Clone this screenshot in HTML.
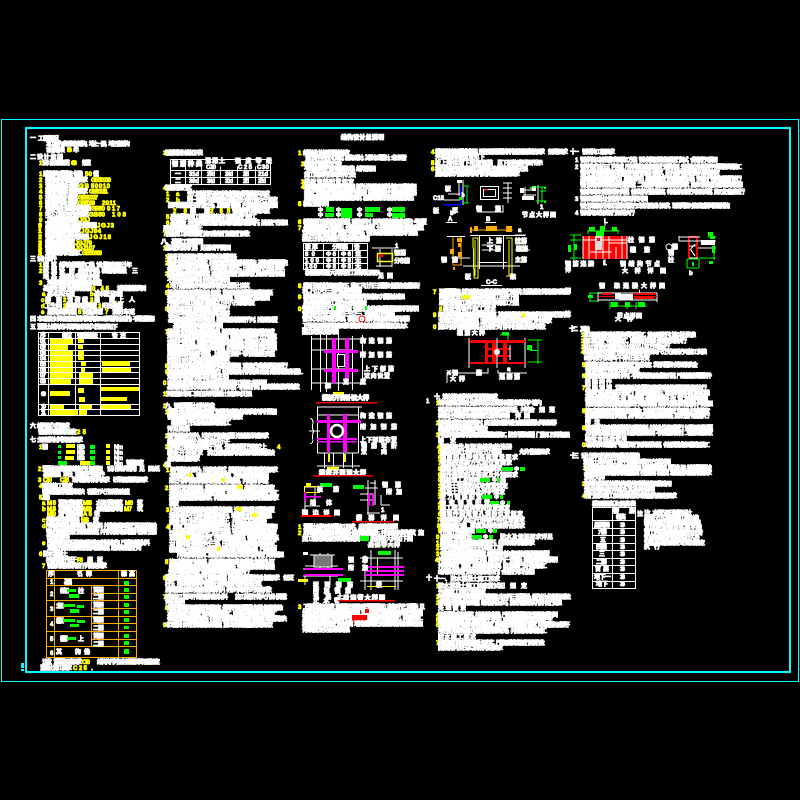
<!DOCTYPE html>
<html lang="zh"><head><meta charset="utf-8"><title>结构设计总说明</title>
<style>
html,body{margin:0;padding:0;background:#000;width:800px;height:800px;overflow:hidden}
svg{display:block}
text{font:bold 6px "Liberation Sans","Noto Sans CJK SC",sans-serif;fill:#fff;stroke:#fff;stroke-width:.8}
text.y{fill:#ff0;stroke:#ff0}
text.g{fill:#0f0;stroke:#0f0}
text.c{fill:#fff;stroke:#fff;stroke-width:1.1}
.l{stroke:#fff;fill:none;stroke-width:1;shape-rendering:crispEdges}
.o{stroke:#fa0;fill:none;stroke-width:1;shape-rendering:crispEdges}
.m{fill:#f0f;shape-rendering:crispEdges}
.r{fill:#f00;shape-rendering:crispEdges}
.gr{fill:#0f0;shape-rendering:crispEdges}
.yl{fill:#ff0;shape-rendering:crispEdges}
.gl{stroke:#0f0;fill:none;stroke-width:1;shape-rendering:crispEdges}
.yb{stroke:#ff0;fill:none;stroke-width:1;shape-rendering:crispEdges}
.ob{fill:#fa0;shape-rendering:crispEdges}
</style></head><body>
<svg width="800" height="800" viewBox="0 0 800 800" xmlns="http://www.w3.org/2000/svg">
<rect width="800" height="800" fill="#000"/>
<rect x="1.5" y="119.5" width="797" height="562" fill="none" stroke="#0ff" stroke-width="1"/>
<rect x="26" y="128" width="764" height="544" fill="none" stroke="#0ff" stroke-width="2"/>
<rect x="21" y="663" width="3" height="5" fill="#0ff"/><rect x="21" y="669" width="3" height="2" fill="#0ff"/>

<text x="341" y="139.5" textLength="43" class="c">结构设计总说明</text>

<!-- column 1 -->
<text x="30" y="140" textLength="5">一</text><text x="38" y="140.5" textLength="21">工程概况</text>
<text x="46" y="146" textLength="84">本工程为多层框架结构，地上一层，地下室结构</text>
<text x="46" y="152" textLength="19">设计使用年限</text><text x="67" y="152" textLength="5" class="y">50</text><text x="73" y="152" textLength="5">年</text>
<text x="30" y="159" textLength="5">二</text><text x="37" y="159" textLength="26">设计依据</text>
<text x="39" y="165" textLength="3" class="y">1</text><text x="42" y="165" textLength="28">设计标准规范</text><text x="71" y="165" textLength="6" class="y">GB</text><text x="82" y="165" textLength="9">规范</text>

<text x="39" y="176" textLength="3" class="y">1</text><text x="43" y="176" textLength="40">建筑结构可靠度统一标准</text><text x="85" y="176" textLength="7" class="y">50</text><text x="93" y="176" textLength="5">值</text>
<text x="39" y="182" textLength="3" class="y">2</text><text x="45" y="182" textLength="43">建筑结构荷载规范要求</text><text x="91" y="182" textLength="20" class="y">GB50009</text>
<text x="39" y="188" textLength="3" class="y">3</text><text x="45" y="188" textLength="34">混凝土结构设计规范</text><text x="79" y="188" textLength="10" class="y">GB</text><text x="91" y="188" textLength="19" class="y">50010</text>
<text x="39" y="193.500" textLength="3" class="y">4</text><text x="45" y="193.500" textLength="43">建筑抗震设计规范要求</text><text x="89" y="193.500" textLength="19" class="y">GB50011</text>
<text x="39" y="199.500" textLength="3" class="y">5</text><text x="45" y="199.500" textLength="33">地基基础设计规范</text><text x="78" y="199.500" textLength="20" class="y">GB50007</text>
<text x="39" y="205" textLength="3" class="y">6</text><text x="45" y="205" textLength="33">砌体结构设计规范</text><text x="78" y="205" textLength="17" class="y">GB5003</text><text x="102" y="205" textLength="14" class="y">2011</text>
<text x="39" y="210.500" textLength="3" class="y">7</text><text x="45" y="210.500" textLength="46">钢结构设计规范及其标准</text><text x="91" y="210.500" textLength="14" class="y">GB50</text><text x="107" y="210.500" textLength="13" class="y">017</text>
<text x="39" y="216.500" textLength="3" class="y">8</text><text x="45" y="216.500" textLength="44">地下工程防水技术规范</text><text x="89" y="216.500" textLength="16" class="y">GB50</text><text x="112" y="216.500" textLength="14" class="y">108</text>
<text x="39" y="222" textLength="3" class="y">9</text><text x="45" y="222" textLength="34">工程结构通用规范</text><text x="79" y="222" textLength="11" class="y">JGJ</text>
<text x="38" y="227.500" textLength="4" class="y">10</text><text x="45" y="227.500" textLength="52">高层建筑混凝土结构技术规程</text><text x="97" y="227.500" textLength="17" class="y">JGJ3</text>
<text x="38" y="233" textLength="4" class="y">11</text><text x="45" y="233" textLength="36">建筑桩基技术规范要求</text><text x="81" y="233" textLength="20" class="y">JGJ94</text>
<text x="38" y="239" textLength="4" class="y">12</text><text x="45" y="239" textLength="44">钢筋焊接及验收技术规程</text><text x="89" y="239" textLength="22" class="y">JGJ18</text>
<text x="38" y="245" textLength="4" class="y">13</text><text x="45" y="245" textLength="30">建筑地基处理规范</text><text x="75" y="245" textLength="17" class="y">JGJ79</text>
<text x="38" y="250" textLength="4" class="y">14</text><text x="45" y="250" textLength="30">钢筋机械连接规程</text><text x="75" y="250" textLength="20" class="y">JGJ107</text>
<text x="38" y="255" textLength="4" class="y">15</text><text x="45" y="255" textLength="37">混凝土结构工程施工</text><text x="82" y="255" textLength="20" class="y">GB50666</text>

<text x="30" y="261" textLength="5">三</text><text x="37" y="261" textLength="20">设计条件</text>
<text x="39" y="267" textLength="3" class="y">1</text><text x="43" y="267" textLength="14">建筑</text><text x="59" y="267" textLength="73">结构安全等级为二级，设计使用年限五十年</text>
<text x="39" y="273" textLength="3" class="y">2</text><text x="43" y="273" textLength="14">抗震</text><text x="59" y="273" textLength="16">设防</text><text x="78" y="273" textLength="49">类别为丙类，框架抗震等级</text><text x="132" y="273" textLength="3">三</text>
<text x="43" y="279" textLength="14">地基</text><text x="59" y="279" textLength="41">基础设计等级为丙级</text>
<text x="39" y="285" textLength="3" class="y">3</text><text x="47" y="285" textLength="55">场地类别及风雪荷载基本取值</text>
<text x="43" y="290.500" textLength="49">基本风压雪压按规范取值</text><text x="92" y="290.500" textLength="17" class="y">0.45</text><text x="117" y="290.500" textLength="33">地面粗糙度类别：</text>
<text x="42" y="296" textLength="3" class="y">a</text><text x="47" y="296" textLength="28">基本风压值</text><text x="90" y="296" textLength="3" class="y">b</text><text x="94" y="296" textLength="29">基本雪压取值</text>
<text x="41" y="302" textLength="3" class="y">c</text><text x="45" y="302" textLength="17">楼面</text><text x="63" y="302" textLength="3" class="y">2</text><text x="67" y="302" textLength="21">活荷载</text><text x="90" y="302" textLength="3" class="y">3</text><text x="94" y="302" textLength="21">屋面</text><text x="115" y="302" textLength="2" class="y">.</text><text x="118" y="302" textLength="17">上人</text>
<text x="41" y="308" textLength="3" class="y">d</text><text x="45" y="308" textLength="17">卫生间</text><text x="63" y="308" textLength="3" class="y">2</text><text x="66" y="308" textLength="31">楼梯走廊荷载</text><text x="98" y="308" textLength="3" class="y">3</text><text x="102" y="308" textLength="21">阳台荷载</text>
<text x="41" y="314" textLength="5" class="y">e</text><text x="47" y="314" textLength="30">屋面恒载取值</text><text x="78" y="314" textLength="3" class="y">5</text><text x="82" y="314" textLength="21">设备荷载</text><text x="105" y="314" textLength="4" class="y">7</text><text x="112" y="314" textLength="23">消防车道</text>
<text x="30" y="321" textLength="4">四</text><text x="37" y="321" textLength="118">本工程设计计算采用中国建筑科学研究院PKPM系列结构分析软件，不得超载使用</text>
<text x="30" y="329" textLength="5">五</text><text x="37" y="329" textLength="81">混凝土结构的环境类别及耐久性要求如下</text>

<path class="l" d="M38.500 332.500H139.500V415.500H38.500ZM38.500 338.500H139.500M38.500 344.500H139.500M38.500 350.500H139.500M38.500 355.500H139.500M38.500 361.500H139.500M38.500 367.500H139.500M38.500 372.500H139.500M38.500 378.500H139.500M38.500 384.500H139.500M38.500 404.500H139.500M38.500 409.500H139.500M48.500 332.500V415.500M75.500 332.500V415.500M100.500 332.500V415.500"/>
<text x="40" y="337.500" textLength="6">序</text><text x="62" y="337.500" textLength="10">部位</text><text x="77" y="337.500" textLength="21">强度等级</text><text x="112" y="337.500" textLength="14">备注</text>
<text x="40" y="343.500" textLength="6">01</text><text x="40" y="349.500" textLength="6">02</text><text x="40" y="355" textLength="6">03</text><text x="40" y="360.500" textLength="6">04</text><text x="40" y="366.500" textLength="6">05</text><text x="40" y="372" textLength="6">06</text><text x="40" y="377.500" textLength="6">07</text><text x="40" y="383.500" textLength="6">08</text><text x="41" y="396" textLength="5">09</text><text x="41" y="408.500" textLength="5">10</text><text x="41" y="414.500" textLength="5">11</text>
<rect class="yl" x="50" y="339" width="23" height="5"/><rect class="yl" x="50" y="345" width="18" height="5"/><rect class="yl" x="50" y="351" width="23" height="4"/><rect class="yl" x="50" y="356" width="23" height="5"/><rect class="yl" x="50" y="362" width="23" height="5"/><rect class="yl" x="50" y="368" width="23" height="4"/><rect class="yl" x="50" y="373" width="23" height="5"/><rect class="yl" x="50" y="379" width="21" height="5"/><rect class="yl" x="50" y="391" width="20" height="5"/><rect class="yl" x="50" y="405" width="14" height="4"/><rect class="yl" x="50" y="410" width="28" height="5"/><rect class="yl" x="78" y="339" width="6" height="4"/><rect class="yl" x="78" y="345" width="5" height="4"/><rect class="yl" x="78" y="351" width="6" height="4"/><rect class="yl" x="78" y="356" width="6" height="4"/><rect class="yl" x="81" y="362" width="5" height="4"/><rect class="yl" x="81" y="368" width="4" height="4"/><rect class="yl" x="79" y="373" width="14" height="5"/><rect class="yl" x="79" y="379" width="14" height="5"/><rect class="yl" x="78" y="388" width="6" height="5"/><rect class="yl" x="79" y="397" width="6" height="5"/><rect class="yl" x="79" y="405" width="13" height="4"/><rect class="yl" x="79" y="410" width="8" height="5"/><rect class="yl" x="102" y="361" width="28" height="5"/><rect class="yl" x="102" y="368" width="29" height="4"/><rect class="yl" x="101" y="387" width="38" height="4"/><rect class="yl" x="101" y="397" width="26" height="4"/><rect class="yl" x="101" y="405" width="30" height="4"/>

<text x="30" y="428" textLength="5">六</text><text x="37" y="428" textLength="33">结构耐久性要求</text>
<text x="38" y="434" textLength="39">钢筋保护层厚度及规定</text><text x="77" y="434" textLength="9" class="y">25</text>
<text x="30" y="442" textLength="5">七</text><text x="37" y="442" textLength="46">主要结构材料及强度要求</text>
<text x="39" y="449" textLength="3" class="y">1</text><text x="42" y="449" textLength="8">钢</text>
<rect class="gr" x="58" y="445" width="3" height="3"/><rect class="yl" x="66" y="444" width="9" height="4"/><text x="77" y="449" textLength="8">HPB</text><rect class="gr" x="90" y="445" width="5" height="4"/><rect class="yl" x="106" y="444" width="4" height="4"/><text x="114" y="449" textLength="9">N/m</text>
<rect class="gr" x="58" y="451" width="3" height="3"/><rect class="yl" x="66" y="450" width="9" height="4"/><text x="77" y="454.500" textLength="8">HRB</text><rect class="gr" x="90" y="450" width="5" height="4"/><rect class="yl" x="106" y="450" width="4" height="4"/><text x="114" y="454.500" textLength="9">N/m</text>
<rect class="gr" x="58" y="456" width="3" height="3"/><rect class="yl" x="65" y="456" width="9" height="4"/><text x="77" y="460" textLength="8">HRB</text><rect class="gr" x="90" y="456" width="5" height="4"/><rect class="yl" x="106" y="456" width="4" height="4"/><text x="114" y="460" textLength="9">N/m</text>
<rect class="gr" x="58" y="461" width="9" height="4"/><rect class="yl" x="80" y="461" width="10" height="4"/><rect class="gr" x="90" y="461" width="5" height="4"/><rect class="yl" x="106" y="461" width="4" height="4"/><text x="114" y="465.500" textLength="9">N/m</text><text x="126" y="465" textLength="18">钢筋强度</text>
<text x="38" y="471" textLength="4" class="y">2</text><text x="42" y="471" textLength="61">混凝土强度等级按各构件分别采用</text><text x="107" y="471" textLength="30">设计要求选用</text><text x="139" y="471" textLength="6">见</text><text x="148" y="471" textLength="12">图纸</text>
<text x="43" y="476.500" textLength="62">基础垫层、承台、地梁及柱墙构件</text>
<text x="38" y="482" textLength="3" class="y">3</text><text x="43" y="482" textLength="9" class="y">C30</text><text x="60" y="482" textLength="9" class="y">C25</text><text x="72" y="482" textLength="38">填充墙砌体材料要求</text><text x="113" y="482" textLength="35">砂浆强度等级要求</text>
<text x="39" y="488" textLength="2" class="y">4</text><text x="42" y="488" textLength="31">砌体施工规定</text>
<text x="42" y="494" textLength="43">非承重墙采用轻质砌块</text><text x="87" y="494" textLength="43">容重不大于规范规定值</text>
<text x="39" y="499.500" textLength="3" class="y">5</text><text x="42" y="499.500" textLength="8">其他</text>
<text x="42" y="505" textLength="3" class="y">a</text><text x="47" y="505" textLength="9" class="y">M5</text><text x="58" y="505" textLength="25">混合砂浆砌筑</text><text x="83" y="505" textLength="9" class="y">M7.5</text><text x="96" y="505" textLength="27">水泥砂浆砌筑</text><text x="125" y="505" textLength="8" class="y">M5</text><text x="137" y="505" textLength="7">筑</text>
<text x="42" y="511" textLength="3" class="y">b</text><text x="47" y="511" textLength="9" class="y">MU5</text><text x="58" y="511" textLength="25">页岩多孔砖砌</text><text x="83" y="511" textLength="9" class="y">MU10</text><text x="96" y="511" textLength="27">烧结普通砖砌</text><text x="124" y="511" textLength="8" class="y">M7</text><text x="137" y="511" textLength="7">筑</text>
<text x="47" y="516" textLength="9" class="y">M10</text><text x="58" y="516" textLength="25">加气混凝土砌</text><text x="83" y="516" textLength="9" class="y">A5</text><text x="94" y="516" textLength="9">块</text>
<text x="42" y="522" textLength="3" class="y">c</text><text x="46" y="522" textLength="34">焊条采用相应规格</text><text x="81" y="522" textLength="8" class="y">E43</text><text x="93" y="522" textLength="9">型</text>
<text x="42" y="528" textLength="3" class="y">d</text><text x="46" y="528" textLength="111">所有结构用钢材须具有出厂合格证明，并应按规范要求进行见证取样复验</text>
<text x="46" y="534" textLength="111">钢材性能应符合现行国家标准规定，并不得采用冷加工钢筋代替受力钢筋</text>
<text x="46" y="539" textLength="24">合格后使用</text>
<text x="42" y="545" textLength="3" class="y">e</text><text x="47" y="545" textLength="103">所有预埋件及吊环应采用未经冷加工的钢材制作，严禁使用其他材料</text>
<text x="47" y="550" textLength="95">混凝土外加剂选用应符合相关标准规定，经试验合格后方可</text>
<text x="39" y="556" textLength="3" class="y">6</text><text x="43" y="556" textLength="25">防水混凝土</text>
<text x="46" y="562" textLength="31">抗渗等级不低于</text><text x="77" y="562" textLength="6" class="y">P6</text><text x="87" y="562" textLength="16">底板</text>
<text x="42" y="568" textLength="4" class="y">7</text><text x="47" y="568" textLength="60">钢筋的连接应符合下列规定要求</text>

<path class="o" d="M46.500 570.500H136.500V657.500H46.500ZM46.500 578.500H136.500M46.500 585.500H136.500M46.500 600.500H136.500M46.500 616.500H136.500M46.500 631.500H136.500M46.500 646.500H136.500M91.500 593.500H136.500M91.500 608.500H136.500M91.500 623.500H136.500M91.500 639.500H136.500M54.500 570.500V657.500M91.500 585.500V646.500M118.500 570.500V657.500"/>
<text x="48" y="576" textLength="5">序</text><text x="77" y="576" textLength="15">名称</text><text x="121" y="576" textLength="14">标高</text>
<text x="50" y="584" textLength="3">1</text><text x="64" y="584" textLength="8">基础</text><rect class="gr" x="124" y="581" width="5" height="4"/>
<text x="50" y="596" textLength="3">2</text><text x="60" y="593" textLength="9">框架</text><rect class="gr" x="67" y="589" width="9" height="3"/><text x="78" y="593" textLength="7">柱</text><rect class="gr" x="69" y="594" width="10" height="4"/><text x="93" y="592" textLength="11">首层</text><text x="93" y="599" textLength="11">二层</text><rect class="gr" x="124" y="588" width="5" height="4"/><rect class="gr" x="124" y="595" width="5" height="4"/>
<text x="50" y="611" textLength="3">3</text><text x="56" y="608" textLength="8">主梁</text><rect class="gr" x="63" y="604" width="12" height="3"/><rect class="gr" x="77" y="605" width="7" height="3"/><rect class="gr" x="70" y="609" width="9" height="4"/><text x="93" y="607" textLength="11">首层</text><text x="93" y="614" textLength="11">二层</text><rect class="gr" x="124" y="603" width="5" height="4"/><rect class="gr" x="124" y="610" width="5" height="4"/>
<text x="50" y="626" textLength="3">4</text><text x="56" y="623" textLength="8">楼板</text><rect class="gr" x="63" y="619" width="12" height="3"/><rect class="gr" x="77" y="620" width="8" height="3"/><rect class="gr" x="70" y="624" width="9" height="3"/><text x="93" y="622" textLength="11">首层</text><text x="93" y="630" textLength="11">二层</text><rect class="gr" x="124" y="618" width="5" height="4"/><rect class="gr" x="124" y="626" width="5" height="3"/>
<text x="50" y="641" textLength="3">5</text><text x="60" y="641" textLength="8">楼梯</text><rect class="gr" x="67" y="637" width="9" height="3"/><text x="78" y="641" textLength="7">上</text><text x="93" y="638" textLength="11">首层</text><text x="93" y="646" textLength="11">二层</text><rect class="gr" x="124" y="634" width="5" height="4"/><rect class="gr" x="124" y="641" width="5" height="4"/>
<text x="50" y="655" textLength="3">6</text><text x="56" y="654" textLength="34">其他</text><text x="75" y="654" textLength="15">构件</text><rect class="gr" x="124" y="649" width="5" height="5"/>
<text x="42" y="664" textLength="40">注意：混凝土强度要求</text><text x="82" y="664" textLength="8" class="y">C30</text><text x="97" y="664" textLength="63">结构构件外加剂掺量及其用量规定</text>
<text x="40" y="670" textLength="32">混凝土施工要求</text><text x="73" y="670" textLength="14" class="y">C25</text><text x="91" y="670" textLength="2">.</text>

<!-- column 2 -->
<text x="163" y="155" textLength="2" class="y">3</text><text x="165" y="155" textLength="38">钢筋锚固长度如下表</text>
<path class="l" d="M170.500 159.500H270.500V184.500H170.500ZM170.500 170.500H270.500M170.500 177.500H270.500M201.500 166.500V184.500M220.500 166.500V184.500M237.500 166.500V184.500M255.500 166.500V184.500M185.500 159.500V184.500"/>
<text x="172" y="166" textLength="30" class="c">钢筋种类</text><text x="205" y="163" textLength="20">混凝土</text><text x="235" y="163" textLength="37">强度等级</text><text x="206" y="169" textLength="10">C20</text><text x="238" y="169" textLength="14">C25</text><text x="257" y="169" textLength="12">C30</text>
<text x="175" y="176" textLength="5">一</text><text x="189" y="176" textLength="10">31d</text><text x="207" y="176" textLength="8">27d</text><text x="225" y="176" textLength="8">24d</text><text x="243" y="176" textLength="6">22d</text><text x="258" y="176" textLength="10">21d</text>
<text x="175" y="183" textLength="5">二</text><text x="189" y="183" textLength="10">39d</text><text x="207" y="183" textLength="8">34d</text><text x="225" y="183" textLength="8">30d</text><text x="243" y="183" textLength="6">27d</text><text x="258" y="183" textLength="8">25d</text>
<text x="163" y="190" textLength="2" class="y">4</text><text x="165" y="190" textLength="27">钢筋连接方式</text>
<text x="166" y="196" textLength="2" class="y">1</text><text x="176" y="196" textLength="8" class="y">a</text><text x="187" y="196" textLength="83">受力钢筋优先采用机械连接或焊接接头要求</text>
<text x="166" y="202" textLength="2" class="y">2</text><text x="176" y="202" textLength="9" class="y">b</text><text x="187" y="202" textLength="91">同一截面内钢筋接头面积百分率不应大于规定</text>
<text x="168" y="207.500" textLength="110">接头位置应设在受力较小处，且应避开梁端、柱端箍筋加密区范围</text>
<text x="173" y="213" textLength="14" class="y">25</text><text x="190" y="213" textLength="20">箍筋</text><text x="210" y="213" textLength="13" class="y">35</text><text x="227" y="213" textLength="3" class="y">5</text><text x="232" y="213" textLength="38">钢筋绑扎搭接长度</text>
<text x="166" y="219" textLength="3" class="y">5</text><text x="170" y="219" textLength="87">后浇带及施工缝处理按设计图纸进行施工</text>
<text x="166" y="225" textLength="3" class="y">6</text><text x="170" y="225" textLength="118">基础底板、地下室外墙及顶板的后浇带处钢筋贯通不断开，接缝应严密处理</text>
<text x="163" y="230.500" textLength="40">采用补偿收缩混凝土</text>
<text x="163" y="236" textLength="2" class="y">7</text><text x="165" y="236" textLength="38">钢筋施工验收规定</text><text x="203" y="236" textLength="47">施工应按现行规范进行验收</text>
<text x="161" y="244" textLength="42" class="c">八、基础工程说明</text>
<text x="163" y="250" textLength="2" class="y">1</text><text x="165" y="250" textLength="33">基础形式及持力层</text><text x="200" y="250" textLength="31">见基础平面图</text>
<text x="165" y="259" textLength="2" class="y">1</text><text x="167" y="259" textLength="70">基础开挖后应及时通知勘察单位验槽合格</text>
<text x="165" y="265" textLength="2" class="y">2</text><text x="167" y="265" textLength="121">基坑开挖应保证边坡稳定，并采取有效的降水及排水措施，基底不得受水浸泡</text>
<text x="167" y="270" textLength="118">基础施工完毕应及时回填，回填土应分层夯实，压实系数不小于设计要求</text>
<text x="165" y="276" textLength="2" class="y">3</text><text x="167" y="276" textLength="118">桩基础施工应符合规范规定，成桩后按规定进行单桩承载力及桩身完整性检测</text>
<text x="167" y="282" textLength="63">不合格桩应会同设计单位研究处理</text>
<text x="166" y="288" textLength="2" class="y">4</text><text x="170" y="288" textLength="80">地下室底板及外墙应采用防水混凝土浇筑</text>
<text x="165" y="295" textLength="2" class="y">5</text><text x="167" y="295" textLength="106">基础钢筋保护层厚度按设计要求，垫层及底板混凝土强度按图纸</text>
<text x="167" y="300" textLength="103">地下室外墙钢筋在转角部位应互相搭接，竖向筋伸入基础锚固</text>
<text x="167" y="305" textLength="88">外墙水平施工缝设在底板以上不小于规定高度</text>
<text x="165" y="311" textLength="2" class="y">6</text><text x="167" y="311" textLength="63">回填土施工应在结构强度达到后进行</text>
<text x="168" y="316" textLength="62">填土中不得含有垃圾及有机杂物等</text>
<text x="168" y="322" textLength="110">基础梁顶面标高详见平面图，梁底与基础底面平齐时，按规范设置</text>
<text x="173" y="328" textLength="50">基础梁钢筋构造做法详图</text>
<text x="165" y="334" textLength="2" class="y">7</text><text x="167" y="334" textLength="108">基础与柱的连接做法见标准图集，插筋锚固长度须满足规范的要求</text>
<text x="167" y="339" textLength="110">地下室外墙与顶板连接处钢筋要贯通，防水层完成后再行土方回填</text>
<text x="167" y="345" textLength="110">施工时严禁超挖，若遇不良地质情况应通知设计及勘察人员到现场</text>
<text x="167" y="350" textLength="110">防水混凝土墙体不得留设贯穿螺栓，必须使用时应采取止水环处理</text>
<text x="167" y="356" textLength="108">底板钢筋接头应避开支座，上层钢筋在跨中一带下层钢筋在支座</text>
<text x="167" y="362" textLength="63">抗浮设计水位详见总平面图规定要求</text>
<text x="165" y="368" textLength="2" class="y">8</text><text x="167" y="368" textLength="121">沉降观测点的设置及观测要求详见基础平面图，观测工作应按规范全程进行</text>
<text x="165" y="374" textLength="2" class="y">9</text><text x="167" y="374" textLength="133">基础施工前应复核建筑总平面定位，如发现与设计不符应及时与设计单位联系解决问题</text>
<text x="167" y="379" textLength="62">观测资料应及时提交设计单位归档</text>
<text x="163" y="385" textLength="2" class="y">0</text><text x="167" y="385" textLength="100">电梯基坑及集水井大样详见相应的施工详图以及说明</text>
<text x="167" y="389" textLength="133">基础与设备管线交叉时应事先预留孔洞或套管，不得事后开凿，施工单位应配合安装单位</text>
<text x="163" y="396" textLength="3" class="y">1</text><text x="166" y="396" textLength="86">预留管线洞口应在浇筑混凝土前核对无误</text>

<text x="163" y="408" textLength="2" class="y">2</text><text x="165" y="408" textLength="50">九、钢筋混凝土结构构造</text>
<text x="165" y="414" textLength="2" class="y">1</text><text x="167" y="414" textLength="110">混凝土保护层厚度应符合现行规范的规定及本说明表中所列的数据</text>
<text x="167" y="419" textLength="76">钢筋锚固和搭接长度按标准图集规定的做法</text>
<text x="171" y="425" textLength="60">框架梁 柱节点按标准图集施工</text>
<text x="167" y="431" textLength="23">详见图集</text>
<text x="165" y="438" textLength="2" class="y">2</text><text x="167" y="438" textLength="102">板内钢筋除注明外，均按下列规定设置分布钢筋及构造要求</text>
<text x="167" y="444" textLength="63">板底钢筋应伸入支座长度不小于</text>
<text x="165" y="449" textLength="2" class="y">3</text><text x="167" y="449" textLength="100">双向板下部短跨钢筋置于下层，长跨钢筋置于短跨之上</text><text x="277" y="449" textLength="3" class="y">4</text>
<text x="167" y="455" textLength="36">楼板开洞要求</text><text x="207" y="455" textLength="68">洞边加强钢筋详见标准图集规定做法</text>
<text x="167" y="461" textLength="33">悬挑板配筋要求</text>
<text x="163" y="467" textLength="2" class="y">4</text><text x="165" y="467" textLength="15">梁</text>
<text x="166" y="472" textLength="3" class="y">1</text><text x="170" y="472" textLength="108">梁内箍筋除注明外，均采用封闭式，箍筋弯钩长度及角度符合要求</text>
<text x="169" y="478" textLength="100">主次梁相交处，主梁箍筋应贯通布置，次梁纵筋按规定锚固</text><rect class="yl" x="189" y="473" width="3" height="4"/>
<text x="169" y="483" textLength="100">梁上开洞时须按图集要求加设补强钢筋，并经设计同意</text><rect class="yl" x="222" y="478" width="3" height="4"/>
<text x="165" y="490" textLength="3" class="y">2</text><text x="169" y="490" textLength="106">跨度大于四米的梁板，模板应按规范要求起拱，高度符合施工规定</text><rect class="yl" x="237" y="485" width="6" height="4"/>
<text x="169" y="495" textLength="110">悬挑梁上部钢筋不得在支座内搭接，悬臂端部应按图集规定进行施工</text>
<text x="169" y="500" textLength="110">梁侧腰筋设置按图纸要求，构造腰筋搭接锚固长度要符合规定要求</text>
<text x="169" y="506" textLength="10">要求</text>
<text x="166" y="512" textLength="3" class="y">3</text><text x="170" y="512" textLength="105">柱与填充墙连接须按规范设置拉结钢筋，沿柱高每隔五百毫米设置</text><rect class="yl" x="236" y="507" width="6" height="4"/>
<text x="169" y="518" textLength="103">墙体长度大于五米时应设置构造柱，墙高超过四米设置圈梁</text><rect class="yl" x="252" y="513" width="5" height="4"/>
<text x="169" y="524" textLength="98">构造柱施工时先砌墙后浇混凝土，并留设马牙槎做法</text>
<text x="166" y="529" textLength="3" class="y">4</text><text x="169" y="529" textLength="109">门窗洞口顶部应设置钢筋混凝土过梁，过梁截面及配筋按表格选用</text>
<text x="169" y="535" textLength="108">过梁支承长度每边不小于二百五十毫米，预制或现浇依现场情况而定</text>
<text x="169" y="540" textLength="110">当洞顶距框架梁底较小时，过梁与框架梁整浇，做法详见标准图集</text><rect class="yl" x="186" y="535" width="4" height="4"/>
<text x="169" y="546" textLength="108">女儿墙构造柱间距不大于三米，压顶圈梁按图纸配筋及要求施工</text>
<text x="169" y="552" textLength="108">楼梯间及人流通道填充墙应采用钢丝网砂浆面层加强，严格按图</text><rect class="yl" x="217" y="547" width="3" height="4"/>
<text x="177" y="557" textLength="107">所有墙体预留洞口应配合各专业施工图核实后再进行砌筑处理</text>
<text x="165" y="564" textLength="3" class="y">5</text><text x="169" y="564" textLength="106">施工中若采用代换钢筋，应满足等强度要求并取得设计单位的认可</text>
<text x="169" y="569" textLength="106">结构施工应密切配合建筑及设备专业图纸，预埋预留应准确无误差</text>
<text x="168" y="574" textLength="82">未尽事宜应按现行国家相关规范及规程执行</text>
<text x="163" y="580" textLength="2" class="y">6</text><text x="165" y="580" textLength="115">混凝土浇筑前应检查模板尺寸和钢筋位置，确保保护层厚度符合设计规定要求</text><text x="283" y="580" textLength="11">保证</text>
<text x="165" y="586" textLength="97">柱子、墙体等竖向构件混凝土浇筑前应先填同标号砂浆</text>
<text x="165" y="592" textLength="107">后浇混凝土施工时应按规范要求养护，养护时间应不少于规定天数</text>
<text x="163" y="599" textLength="2" class="y">7</text><text x="165" y="599" textLength="63">结构施工期间不得超载堆放材料</text><text x="235" y="599" textLength="52">施工荷载不得大于设计荷载</text>
<text x="165" y="604" textLength="20">详见说明</text>
<text x="165" y="610" textLength="2" class="y">8</text><text x="167" y="610" textLength="116">拆模时混凝土的强度应符合规范规定，悬挑构件须待混凝土达到设计强度后拆除</text>
<text x="167" y="616" textLength="110">本说明未详之处按现行有关规范规程施工，图纸中另有要求的按图施工</text>
<text x="167" y="621" textLength="120">各专业工种之间应相互配合，在施工过程中发现问题应及时通知设计单位协商解决</text>
<text x="163" y="627" textLength="2" class="y">9</text><text x="165" y="627" textLength="108">本工程设计未考虑冬雨期施工措施，施工单位应根据规范要求采取</text>

<!-- column 3 -->
<text x="298" y="155" textLength="4" class="y">1</text><text x="303" y="155" textLength="47">结构设计总则及基本规定</text>
<text x="305" y="160" textLength="102">设计文件中所注尺寸单位，标高以米计，其余均以毫米计，未注明者</text>
<text x="301" y="166" textLength="3" class="y">2</text><text x="304" y="166" textLength="38">结构平面表示方法</text>
<text x="304" y="171" textLength="72">平面整体表示方法详见标准图集，结构平面图</text>
<text x="304" y="177" textLength="52">施工图说明及其表示方法</text>
<text x="301" y="184" textLength="3" class="y">3</text><text x="304" y="184" textLength="50">楼板钢筋配置规定</text>
<text x="301" y="189" textLength="3" class="y">4</text><text x="304" y="189" textLength="113">现浇楼板板厚详见各层结构平面图，板内分布钢筋除注明外均按以下表格采用</text>
<text x="304" y="195" textLength="113">楼板上下层钢筋的保护层厚度须严格控制，浇筑混凝土时严禁踩踏上层钢筋</text>
<text x="304" y="200" textLength="110">楼板钢筋搭接及锚固须满足规范要求，板面负筋标注长度由支座边算起</text>
<text x="298" y="206" textLength="5" class="y">5</text><text x="303" y="206" textLength="26">板配筋说明</text>
<text x="318" y="212" textLength="7">Ф</text><rect class="gr" x="326" y="207" width="8" height="5"/><text x="336" y="212" textLength="3">Ф</text><rect class="gr" x="341" y="208" width="11" height="5"/><text x="357" y="212" textLength="7">Ф</text><rect class="gr" x="365" y="207" width="15" height="5"/><text x="387" y="212" textLength="3">Ф</text><rect class="gr" x="392" y="207" width="13" height="5"/>
<text x="318" y="217" textLength="7">Ф</text><rect class="gr" x="325" y="213" width="9" height="4"/><text x="336" y="217" textLength="3">Ф</text><rect class="gr" x="341" y="213" width="11" height="5"/><text x="357" y="217" textLength="7">Ф</text><rect class="gr" x="365" y="213" width="8" height="4"/><text x="387" y="217" textLength="3">Ф</text><rect class="gr" x="392" y="213" width="13" height="5"/>
<text x="298" y="224" textLength="5" class="y">6</text><text x="303" y="224" textLength="124">板面钢筋在支座处须拉通布置，配筋不同时，较大配筋按短边跨长度的一半设置</text>
<text x="298" y="230" textLength="5" class="y">7</text><text x="303" y="230" textLength="121">悬挑板负筋锚入内跨板中，长度按标准图要求，分布筋采用规定的钢筋及间距</text>
<text x="302" y="235" textLength="116">双向板及单向板的受力钢筋方向按图纸，管线穿越处须加设钢筋网片加强</text>
<text x="302" y="241" textLength="68">楼板上的砌体隔墙下须设置附加钢筋</text>
<path class="l" d="M303.500 243.500H367.500V269.500H303.500ZM303.500 250.500H367.500M303.500 257.500H367.500M303.500 263.500H367.500M323.500 243.500V269.500M338.500 250.500V269.500M352.500 243.500V269.500"/>
<text x="305" y="249" textLength="13">板厚</text><text x="332" y="249" textLength="16">分布筋</text><text x="354" y="249" textLength="10">备</text>
<text x="305" y="256" textLength="10">80</text><text x="326" y="256" textLength="10">Ф6</text><text x="341" y="256" textLength="10">Ф6</text><text x="355" y="256" textLength="9">注</text>
<text x="305" y="262.500" textLength="14">100</text><text x="326" y="262.500" textLength="10">Ф8</text><text x="341" y="262.500" textLength="10">Ф8</text><text x="355" y="262.500" textLength="6">无</text>
<text x="305" y="268.500" textLength="12">150</text><text x="326" y="268.500" textLength="10">Ф8</text><text x="341" y="268.500" textLength="10">Ф8</text><text x="355" y="268.500" textLength="7">无</text>
<path class="l" d="M372 248H396M380 249V267M392 249V267M376 266H392"/>
<rect x="377.500" y="253.500" width="15" height="8" fill="none" stroke="#ff0" stroke-width="1.500"/><rect class="r" x="379" y="254" width="4" height="3"/>
<text x="394" y="255" textLength="12">钢筋</text><text x="394" y="263" textLength="16">分布筋</text><text x="395" y="248" textLength="6">1</text>
<text x="305" y="275" textLength="75">板钢筋布置大样及施工要求如图示</text>
<text x="378" y="278" textLength="15">见图</text>
<text x="298" y="288" textLength="5" class="y">8</text><text x="303" y="288" textLength="117">楼板开洞及管线预埋要求如下，当洞口尺寸小于三百毫米时钢筋绕过不需切断</text>
<text x="302" y="293" textLength="60">洞口尺寸大于三百时设置附加筋</text>
<text x="298" y="299" textLength="5" class="y">9</text><text x="303" y="299" textLength="102">楼面后浇板应预留钢筋待管道安装完毕后施工并做防水处理</text>
<text x="303" y="305" textLength="64">后浇板钢筋施工及防水处理做法</text>
<text x="298" y="311" textLength="3" class="y">0</text><text x="302" y="311" textLength="117">预埋管线应放在上下层钢筋之间，沿管线方向上部应设置抗裂钢筋网片及说明</text>
<rect class="gr" x="334" y="306" width="2" height="4"/><rect class="gr" x="365" y="306" width="2" height="4"/>
<text x="302" y="316" textLength="93">管线直径不大于板厚的三分之一，多根集中时加筋</text>
<text x="302" y="321" textLength="108">管线交叉处不得超过两根，楼板管线密集时应加强局部板的配筋</text>
<circle cx="362" cy="319" r="3" fill="none" stroke="#f00"/>
<text x="302" y="328" textLength="106">卫生间及厨房等有防水要求的楼板周边应设置混凝土翻边及止水</text>
<text x="302" y="334" textLength="37">翻边高度见建筑图</text>
<!-- magenta detail 1 -->
<path class="l" d="M311 339H367M311 350H353M311 369H353M311 383H363M311.500 336V390M320.500 335V392M326.500 335V392M338.500 335V391M352.500 336V390M362.500 335V380"/>
<rect class="m" x="332" y="338" width="4" height="45"/><rect class="m" x="345" y="338" width="4" height="45"/><rect class="m" x="324" y="350" width="34" height="3"/><rect class="m" x="324" y="369" width="34" height="3"/>
<rect x="337.500" y="354.500" width="7" height="12" fill="#000" stroke="#fff"/>
<text x="360" y="343" textLength="32">构造钢筋</text><text x="360" y="357" textLength="32">附加钢筋</text><text x="364" y="371" textLength="30">上下部筋</text><text x="364" y="378" textLength="26">双向设置</text>
<text x="295" y="374" textLength="8">KL</text><text x="325" y="388" textLength="22">梁</text><text x="343" y="384" textLength="23">宽度</text>
<rect class="yl" x="333" y="392" width="11" height="3"/>
<text x="322" y="400" textLength="47" class="c">楼板开洞补强大样</text><rect class="r" x="316" y="402" width="61" height="1.500"/>
<!-- magenta detail 2 -->
<path class="l" d="M317 407H362M317 415H358M317 453H358M317.500 407V453M358.500 407V453M324.500 453V468M333.500 453V468M343.500 453V468M352.500 453V468M317 466H360M309 431H320"/>
<path class="l" d="M310 418C316 420 310 428 314 431C310 436 316 442 310 444"/>
<rect class="m" x="327" y="414" width="3" height="38"/><rect class="m" x="343" y="414" width="4" height="38"/><rect class="m" x="317" y="420" width="44" height="3"/><rect class="m" x="317" y="438" width="40" height="2"/><rect class="m" x="317" y="441" width="40" height="1.500"/>
<circle cx="337" cy="431" r="6" fill="#000" stroke="#fff" stroke-width="2.500"/>
<rect class="yl" x="328" y="454" width="2" height="8"/><rect class="yl" x="344" y="454" width="2" height="8"/><rect class="yl" x="327" y="467" width="12" height="3"/>
<text x="360" y="418" textLength="32">构造钢筋</text><text x="360" y="429" textLength="37">附加钢筋</text>
<text x="360" y="442" textLength="37">上下部筋布置</text><text x="361" y="448" textLength="36">钢筋弯折</text><text x="361" y="454" textLength="26">双向</text>
<text x="319" y="475" textLength="47" class="c">楼板开圆洞大样</text><rect class="r" x="313" y="475" width="60" height="1.500"/>
<!-- small details -->
<path class="l" d="M305 487H315M305 493V510M305 506H320M315 487V506"/>
<rect x="304.500" y="486.500" width="15" height="6" fill="none" stroke="#ff0"/><rect class="yl" x="306" y="483" width="5" height="3"/><rect class="gr" x="320" y="483" width="12" height="4"/><rect class="m" x="304" y="492" width="2" height="9"/><rect class="m" x="305" y="496" width="16" height="1.500"/>
<text x="317" y="491.500" textLength="22">板筋</text><text x="310" y="505" textLength="22">墙体</text>
<text x="302" y="515" textLength="38">翻边详图</text><rect class="r" x="301" y="515" width="31" height="2"/>
<rect class="gr" x="353" y="485" width="11" height="4"/>
<path class="l" d="M368 480V515M375 480V505M370 483H376M365 488H378M360 494H373M360 500H372M367 513H380M381 495V505M381 505H390"/>
<rect class="m" x="368" y="493" width="2" height="13"/><rect class="m" x="372" y="493" width="2" height="13"/>
<text x="382" y="487" textLength="19">钢筋</text><text x="386" y="494" textLength="16">附加</text><text x="381" y="512" textLength="6">1</text>
<text x="356" y="520" textLength="43">楼梯详图</text><rect class="r" x="352" y="521" width="42" height="1.500"/>
<text x="298" y="529" textLength="5" class="y">1</text><text x="303" y="529" textLength="95">混凝土结构后浇带施工要求，后浇带两侧梁板支撑</text>
<text x="298" y="535" textLength="4" class="y">2</text><text x="303" y="535" textLength="113">后浇带混凝土应采用比两侧提高一级的微膨胀混凝土，并在规定的时间内浇筑</text><text x="418" y="535" textLength="5">施</text>
<text x="302" y="541" textLength="58">施工缝处理前必须凿毛清洗</text><rect class="gr" x="360" y="536" width="9" height="5"/><text x="370" y="541" textLength="43">后浇带大样如下图</text>
<text x="368" y="547" textLength="32">后浇带大样</text>
<path class="l" d="M310 555H335M320 553V570M328 553V570M305 566H338M303 569H338M303 576H338M305 576V585M330 575V585"/><rect x="314" y="555" width="18" height="12" fill="#777" stroke="#fff"/>
<rect class="m" x="305" y="568" width="38" height="2"/><rect class="m" x="305" y="574" width="38" height="2"/>
<rect x="303" y="552" width="5" height="3" fill="#fff"/><rect class="yl" x="298" y="579" width="10" height="3"/><rect class="gr" x="338" y="578" width="13" height="4"/>
<text x="313" y="587" textLength="40">板面钢筋</text><text x="313" y="593" textLength="38">附加钢筋</text><text x="313" y="599" textLength="30">混凝土</text><text x="313" y="603" textLength="27">止水带</text>
<path class="l" d="M360 558H403M360 581H403M371 550V590M395 550V590M365 555V590M398 552V590M367 545H400"/>
<rect class="gr" x="378" y="551" width="13" height="4"/><rect class="m" x="365" y="566" width="39" height="2"/><rect class="m" x="365" y="570" width="39" height="2"/><rect class="m" x="365" y="574" width="39" height="2"/><rect class="yl" x="377" y="558" width="1" height="16"/><rect class="yl" x="367" y="586" width="29" height="1"/>
<text x="348" y="562" textLength="20">钢筋</text><text x="348" y="570" textLength="20">附加</text><text x="376" y="587" textLength="12">板</text>
<text x="343" y="600" textLength="42" class="c">后浇带大样图</text><rect class="r" x="338" y="600" width="57" height="1.500"/>
<text x="298" y="609" textLength="5" class="y">3</text><text x="303" y="609" textLength="122">卫生间防水施工要求，现浇楼板四周墙下应作混凝土翻边，高度不小于二百毫米，且</text>
<text x="302" y="615" textLength="121">外墙及地下室穿墙管应预埋防水套管，套管规格及位置详见设备专业的施工图</text><rect class="r" x="365" y="609" width="4" height="4"/>
<text x="302" y="620" textLength="121">混凝土翻边施工时与楼板同时浇筑，其强度等级同楼板混凝土，防水层施工</text><rect class="r" x="352" y="615" width="15" height="7"/>
<text x="302" y="626" textLength="121">按建筑施工图要求进行防水处理，墙体根部应做好防水层及保护层处理及措施</text>
<text x="302" y="632" textLength="48">详细做法见标准图集</text>

<!-- column 4 -->
<text x="431" y="154" textLength="4" class="y">4</text><text x="435" y="154" textLength="110">楼板阳角处应配置放射钢筋，阳台及雨篷等悬挑构件钢筋锚固应符合要求</text><text x="548" y="154" textLength="20">规范要求</text>
<text x="435" y="159" textLength="50">外挑板构造做法见下</text>
<text x="431" y="165" textLength="4" class="y">5</text><text x="435" y="165" textLength="58">板上砌体墙下附加钢筋</text><text x="497" y="165" textLength="46">见下图构造详图所示</text>
<text x="431" y="171" textLength="4" class="y">6</text><text x="435" y="171" textLength="93">板内预埋件和预留洞位置应配合各专业图纸无误</text>
<text x="435" y="176" textLength="85">屋面板及外露结构构件的构造做法和要求</text>
<!-- col4 small details -->
<path class="l" d="M459 183V196M463 180V205M444 200H460M444 205H460M448 194H460"/><rect x="457" y="180" width="5" height="3" fill="#fff"/>
<text x="445" y="191" textLength="10">板</text><text x="433" y="200" textLength="11">C15</text><text x="461" y="197" textLength="4">b</text>
<rect x="443" y="204" width="18" height="1.500" fill="#00f"/><rect x="460" y="187" width="1.500" height="18" fill="#00f"/>
<path class="gl" d="M463 186H469M463 203H469M467 186V203"/><rect class="gr" x="459" y="197" width="3" height="3"/>
<rect x="480.500" y="186.500" width="18" height="13" fill="none" stroke="#fff"/><rect x="483.500" y="189.500" width="12" height="7" fill="none" stroke="#fff"/><rect x="484" y="189" width="4" height="1.500" fill="#f33"/>
<path class="l" d="M503 183H512M503 188H512M503 193H512M503 198H512M508 183V203M478 205V212H503V205"/>
<path class="l" d="M523 190H535M523 195H536M525 187V198M538 185V204"/><rect x="520" y="188" width="4" height="5" fill="#fff"/><rect x="532" y="186" width="4" height="5" fill="#fff"/><rect x="522" y="196" width="12" height="4" fill="#fff"/>
<path class="gl" d="M532 187H546M540 191H546M542 187V203M536 201H546"/><rect class="gr" x="530" y="187" width="2" height="2"/><rect class="gr" x="544" y="187" width="2" height="2"/><rect class="gr" x="544" y="201" width="2" height="2"/>
<text x="540" y="209" textLength="7">1</text>
<text x="433" y="213" textLength="25">板厚</text><text x="450" y="215" textLength="9">b</text><text x="476" y="211" textLength="25">钢筋</text><text x="522" y="217" textLength="34">节点大样图</text>
<rect x="446" y="222" width="11" height="1" fill="#fff"/><text x="448" y="221" textLength="8">A</text><rect x="485" y="222" width="11" height="1" fill="#fff"/><text x="486" y="221" textLength="8">B</text>
<!-- col4 mid diagram -->
<path class="o" d="M470 230H513M453 236.500H462M453 265H462M453 236V265M461 236V265"/>
<rect class="ob" x="470" y="227" width="2" height="6"/><rect class="ob" x="474" y="226" width="4" height="5"/><rect class="ob" x="486" y="226" width="11" height="5"/><rect class="ob" x="506" y="226" width="6" height="6"/><rect class="ob" x="450" y="249" width="4" height="5"/><rect class="ob" x="458" y="252" width="4" height="5"/><rect class="ob" x="457" y="238" width="5" height="4"/><rect class="ob" x="458" y="243" width="3" height="4"/>
<path class="l" d="M470 235.500H525M479.500 236V269M503.500 236V269M478 262.500H507M447 236.500H465M451 258H470M463 266H520M515 250H530M515 240H526M515 235H526M515 244H526M482 245H496M482 250H496"/>
<path class="yb" d="M473 238H478V278H474ZM506 238H512V276H506"/><path class="yb" d="M475 240V276M509 240V276"/>
<rect class="ob" x="453" y="267" width="2" height="3"/>
<text x="441" y="262" textLength="17">钢筋</text><text x="487" y="243" textLength="15">上筋</text><text x="487" y="251" textLength="14">下筋</text><text x="515" y="243" textLength="12">拉筋</text><text x="516" y="251" textLength="12">箍筋</text><text x="515" y="262" textLength="12">主筋</text><text x="518" y="232" textLength="8">a</text>
<text x="465" y="279" textLength="10">板</text><text x="510" y="279" textLength="10">梁</text><text x="486" y="284" textLength="11">C-C</text><rect x="481" y="285" width="21" height="1" fill="#fff"/>
<text x="433" y="294" textLength="4" class="y">7</text><text x="439" y="294" textLength="131">现浇混凝土梁、板在跨中施工时应按规范要求进行预起拱，起拱高度按计算及规范要求确定</text>
<text x="439" y="299" textLength="80">跨度超过四米的现浇梁板施工应按下图</text><rect class="yl" x="462" y="295" width="8" height="4"/>
<text x="439" y="305" textLength="80">梁板支模施工要求详见模板专项施工方案</text>
<text x="439" y="311" textLength="3" class="y">8</text><text x="443" y="311" textLength="53">梁板预埋件施工要求</text>
<text x="433" y="317" textLength="4" class="y">9</text><text x="438" y="317" textLength="132">梁上集中荷载处应设附加箍筋或吊筋，其规格和数量详见各层结构平面图及节点详图</text><rect class="yl" x="522" y="313" width="3" height="4"/>
<text x="438" y="323" textLength="114">主次梁交接处应加密箍筋，主梁下部纵筋置于次梁下部纵筋之下并按要求</text>
<text x="433" y="329" textLength="4" class="y">0</text><text x="438" y="329" textLength="108">施工时应先复核图纸确认无误后方可下料并注意配合相关专业</text>
<text x="457" y="335" textLength="28">箍筋大样</text>
<path class="l" d="M469 338V368M525 338V368M488 368V373H447M498 370V373H527M510 368V372M447 372V383"/>
<rect class="r" x="470" y="340" width="55" height="3"/><rect class="r" x="470" y="362" width="55" height="2"/>
<rect class="r" x="485" y="343" width="3" height="19"/><rect class="r" x="492" y="343" width="4" height="19"/><rect class="r" x="503" y="343" width="4" height="19"/><rect class="r" x="485" y="348" width="26" height="2"/><rect class="r" x="485" y="355" width="26" height="2"/>
<circle cx="497" cy="352" r="3" fill="#fff"/><path class="l" d="M497 338V368M510 345V360"/>
<path class="gl" d="M500 335H510M500 339H500M508 335V340M528 340H542M528 362H542M538 340V364"/>
<rect class="gr" x="502" y="332" width="7" height="3"/><rect class="gr" x="527" y="345" width="5" height="5"/><rect class="gr" x="530" y="350" width="8" height="1"/>
<text x="447" y="375" textLength="4">X</text><text x="452" y="375" textLength="30">钢筋</text><text x="450" y="381" textLength="15">大样</text><text x="507" y="371" textLength="9">a</text><text x="499" y="379" textLength="21">连接筋</text>

<text x="434" y="399" textLength="64">十、填充墙与结构构件的连接要求</text>
<text x="426" y="403" textLength="2">1</text><text x="436" y="405" textLength="2" class="y">1</text><text x="438" y="405" textLength="104">填充墙应沿框架柱全高每隔五百毫米设置拉结筋伸入墙内</text>
<text x="438" y="412" textLength="97">砌体填充墙顶部与梁底连接处应斜砌挤紧，并符合</text><text x="539" y="412" textLength="16">规范</text>
<text x="438" y="418" textLength="72">框架柱预留拉结钢筋位置须准确</text><text x="515" y="418" textLength="15">详图</text>
<text x="436" y="425" textLength="2" class="y">2</text><text x="438" y="425" textLength="119">填充墙长度超过层高两倍时，应在墙中设置构造柱或钢筋混凝土水平系梁等</text>
<text x="438" y="431" textLength="50">梁底斜砖砌筑要求做法</text>
<text x="436" y="437" textLength="2" class="y">3</text><text x="438" y="437" textLength="132">外墙填充墙与结构连接部位按规范规定施工，防止开裂及渗漏，门窗洞口四周应加强</text>
<text x="438" y="443" textLength="18">要求</text>
<text x="437" y="449" textLength="3" class="y">4</text><text x="440" y="449" textLength="72">预制构件与现浇结构的连接</text>
<text x="438" y="454" textLength="3" class="y">5</text><text x="440" y="454" textLength="62">现浇混凝土构件的尺寸偏差</text><text x="519" y="454" textLength="31">允许偏差要求</text>
<text x="438" y="459.500" textLength="3" class="y">6</text><text x="440" y="459.500" textLength="78">钢筋的品种规格和数量要求</text>
<text x="438" y="465" textLength="3" class="y">7</text><text x="440" y="465" textLength="72">钢筋的连接方式和位置要求</text>
<text x="438" y="471" textLength="3" class="y">8</text><text x="440" y="471" textLength="62">箍筋及横向钢筋间距要求</text><rect class="gr" x="502" y="467" width="11" height="4"/><text x="514" y="471" textLength="5">Ф</text><rect class="gr" x="520" y="467" width="5" height="4"/>
<text x="438" y="477" textLength="3" class="y">9</text><text x="440" y="477" textLength="78">构件表面的平整度及外观要求</text>
<text x="438" y="482" textLength="3" class="y">0</text><text x="440" y="482" textLength="40">模板施工及拆除</text><rect class="gr" x="480" y="478" width="10" height="4"/><text x="492" y="482" textLength="5">Ф</text><rect class="gr" x="497" y="478" width="3" height="4"/><text x="500" y="482" textLength="4">筋</text>
<text x="438" y="488" textLength="3" class="y">1</text><text x="440" y="488" textLength="68">混凝土强度的试块留置规定</text>
<text x="438" y="494" textLength="3" class="y">2</text><text x="440" y="494" textLength="65">混凝土的振捣及养护规定</text>
<text x="438" y="499" textLength="3" class="y">3</text><text x="440" y="499" textLength="42">受力钢筋配置</text><rect class="gr" x="482" y="495" width="10" height="4"/><text x="494" y="499" textLength="6">Ф</text><rect class="gr" x="500" y="495" width="3" height="4"/>
<text x="438" y="505" textLength="3" class="y">4</text><text x="440" y="505" textLength="50">构造钢筋配置</text><rect class="gr" x="490" y="501" width="9" height="4"/><text x="500" y="505" textLength="7">Ф</text><rect class="gr" x="507" y="501" width="3" height="4"/>
<text x="438" y="510" textLength="3" class="y">5</text><text x="440" y="510" textLength="70">施工缝及后浇带的位置规定</text>
<text x="438" y="516" textLength="3" class="y">6</text><text x="440" y="516" textLength="83">预埋件和预留孔洞的位置规定</text>
<text x="437" y="522" textLength="3" class="y">7</text><text x="440" y="522" textLength="85">楼梯踏步及栏杆预埋件的位置要求</text>
<text x="437" y="528" textLength="3" class="y">8</text><text x="440" y="528" textLength="27">钢筋保护层</text><text x="470" y="528" textLength="55">厚度及验收应符合要求</text>
<text x="438" y="533" textLength="2" class="y">9</text><text x="440" y="533" textLength="35">外墙外保温做法</text><rect class="gr" x="476" y="529" width="10" height="4"/><text x="488" y="533" textLength="5">Ф</text><rect class="gr" x="493" y="529" width="4" height="4"/>
<text x="436" y="539" textLength="4" class="y">0</text><text x="440" y="539" textLength="32">屋面构造做法</text><rect class="gr" x="472" y="535" width="10" height="4"/><text x="483" y="539" textLength="6">Ф</text><rect class="gr" x="489" y="535" width="4" height="4"/><text x="500" y="539" textLength="53">防水及保温要求详见</text>
<text x="436" y="545" textLength="4" class="y">1</text><text x="440" y="545" textLength="95">砌体施工时应按规定设置皮数杆，并控制砌筑高度要求</text>
<text x="436" y="550" textLength="4" class="y">2</text><text x="440" y="550" textLength="63">填充墙砌筑应在主体施工后</text>
<text x="436" y="556" textLength="4" class="y">3</text><text x="440" y="556" textLength="110">各层隔墙位置应按建筑图确定，结构施工时核对各预留钢筋及其准确位置</text>
<text x="435" y="562" textLength="3" class="y">4</text><text x="438" y="562" textLength="120">外墙窗台处应设置混凝土压顶，厚度不小于一百毫米，配筋要求见图纸说明</text>
<text x="438" y="568" textLength="109">外墙转角及门窗洞口处应加设钢丝网，防止裂缝产生并确保施工</text>
<text x="438" y="574" textLength="97">结构竣工后应进行沉降观测及验收工作，合格后方可交付使用</text>
<text x="426" y="580" textLength="5">十</text><text x="434" y="581" textLength="66">十一、防水混凝土施工要求</text>
<text x="436" y="588" textLength="2" class="y">1</text><text x="438" y="588" textLength="67">防水混凝土施工前应做试配</text><text x="510" y="588" textLength="17">规定</text>
<text x="438" y="594" textLength="48">外墙施工缝位置要求</text>
<text x="436" y="599" textLength="2" class="y">2</text><text x="438" y="599" textLength="130">地下室外墙的水平施工缝应设在底板面以上不小于三百毫米处，缝内设止水钢板及要求</text>
<text x="436" y="605" textLength="2" class="y">3</text><text x="438" y="605" textLength="124">穿墙管线应预埋防水套管，螺栓加焊止水环，施工完毕后填实孔洞并进行处理</text>
<text x="438" y="610" textLength="28">处理做法</text>
<text x="436" y="617" textLength="2" class="y">4</text><text x="438" y="617" textLength="120">防水混凝土应连续浇筑，并采用机械振捣，严格控制混凝土的坍落度及初凝时间</text>
<text x="436" y="622" textLength="2" class="y">5</text><text x="438" y="622" textLength="115">防水混凝土施工养护时间不得少于十四天，应保持表面湿润以防止裂缝产生</text>
<text x="436" y="627" textLength="2" class="y">6</text><text x="438" y="627" textLength="132">当混凝土掺加外加剂时应经试验确定，后浇带部位防水按设计要求，两侧混凝土不应损坏</text>
<text x="438" y="633" textLength="109">地下室顶板防水施工前应将基层清理干净，并按建筑图要求施工</text>
<text x="438" y="639" textLength="38">防水施工要求</text>
<text x="436" y="645" textLength="2" class="y">7</text><text x="438" y="645" textLength="107">回填土应在防水层完成后分层夯实，严禁用建筑垃圾进行回填作业</text>
<text x="438" y="650" textLength="65">回填材料及压实系数详见要求</text>

<!-- column 5 -->
<text x="570" y="154" textLength="9">十一</text><text x="582" y="154" textLength="33">钢结构工程要求</text>
<text x="575" y="162" textLength="2">1</text><text x="580" y="162" textLength="138">钢结构施工前应编制专项施工方案，钢材进场后应按规范进行复试，合格后方可使用</text>
<text x="575" y="169" textLength="2">2</text><text x="580" y="169" textLength="162">钢构件制作应在工厂内完成，所有焊缝均应按规范进行无损检测，未经检验合格的构件不得进场安装施工</text>
<text x="580" y="175" textLength="140">钢构件的除锈等级及防腐涂料应符合设计要求，防火涂料厚度按耐火等级确定</text>
<text x="580" y="181" textLength="162">高强度螺栓连接副应有出厂质量证明书，摩擦面应进行抗滑移系数试验，安装时严格按规范操作执行</text>
<text x="580" y="187" textLength="163">钢柱脚锚栓预埋须采用定位板固定，二次灌浆料强度等级应符合要求，施工时确保灌注饱满密实无空隙</text>
<text x="580" y="194" textLength="165">钢结构安装时应搭设临时支撑，保证结构的整体稳定，待连接完成后方可拆除支撑，施工全过程应进行</text>
<text x="575" y="201" textLength="3">3</text><text x="580" y="201" textLength="68">钢梁与混凝土柱连接构造要求见详图</text>
<text x="580" y="208" textLength="150">钢柱及钢梁的拼接位置和连接方式应符合设计要求，现场焊接时应采取防风防雨措施</text>
<text x="575" y="215" textLength="3">4</text><text x="580" y="215" textLength="55">钢结构验收按现行规范执行</text>
<!-- red detail A -->
<rect x="583" y="236" width="44" height="23" fill="#f00" shape-rendering="crispEdges"/>
<path stroke="#fff" fill="none" stroke-width="1" d="M583 236V259M589 236V259M596 242V259M603 236V259M609 236V259M616 247V259M622 236V259M627 236V259M583 240H627M590 252H612M609 243H627"/>
<rect x="595" y="236" width="7" height="14" fill="#ddd"/><rect x="597" y="238" width="3" height="3" fill="#f00"/>
<path class="gl" d="M570 235H581M570 240H581M570 258H581M574 235V260M588 231H619M588 230V234M618 230V234"/>
<rect class="gr" x="568" y="245" width="3" height="7"/><rect class="gr" x="574" y="244" width="3" height="6"/><rect class="gr" x="589" y="227" width="6" height="4"/><rect class="gr" x="600" y="226" width="5" height="5"/><rect class="gr" x="612" y="227" width="5" height="4"/><rect class="gr" x="596" y="231" width="8" height="5"/>
<text x="604" y="223" textLength="5">L</text><text x="603" y="265" textLength="5">L</text>
<path class="l" d="M605 221V226M605 259V264"/>
<text x="628" y="242" textLength="27">柱钢筋</text><text x="630" y="252" textLength="20">箍筋</text>
<text x="565" y="266" textLength="29">钢筋连接</text><text x="565" y="272" textLength="11">详</text>
<text x="620" y="266" textLength="40">钢结构节点</text><text x="622" y="273" textLength="44">大样详图</text>
<!-- red detail B -->
<rect x="688" y="237" width="2" height="21" class="r"/><rect x="696" y="237" width="2" height="21" class="r"/><rect x="688" y="236" width="10" height="2" class="r"/>
<path class="l" d="M679 237H700M679 236V241M679 241H716M698 248H716M698 258H689M689 246H696M691 250L695 256M695 244L690 250"/>
<path class="gl" d="M687 259H699M687 259V268M699 259V268M687 268H699M699 258H715M714 240V260M707 237H716"/>
<rect class="gr" x="708" y="232" width="5" height="4"/><rect class="gr" x="710" y="236" width="5" height="3"/><rect class="gr" x="712" y="246" width="3" height="7"/><rect class="gr" x="709" y="261" width="4" height="3"/><rect class="gr" x="692" y="262" width="2" height="4"/>
<rect x="701" y="240" width="14" height="5" fill="#fff"/>
<circle cx="669" cy="247" r="3" fill="none" stroke="#fff"/>
<text x="672" y="249" textLength="14">筋</text><text x="668" y="255" textLength="17">钢</text><text x="668" y="262" textLength="15">柱</text>
<text x="689" y="275" textLength="8">b</text>
<!-- strip -->
<text x="599" y="288" textLength="21">钢梁</text><text x="623" y="288" textLength="42">连接大样图</text>
<path class="l" d="M598 293H657M598 300H657M598 292V302M657 293V302"/>
<rect x="599" y="296" width="58" height="1" class="r"/><rect x="602" y="293" width="10" height="2" class="r"/><rect x="634" y="293" width="22" height="2" class="r"/><rect x="615" y="293" width="6" height="6" fill="#fff"/><rect x="619" y="294" width="14" height="6" fill="#fff"/><rect x="634" y="297" width="20" height="2" class="r"/><rect x="639" y="290" width="1" height="3" fill="#fff"/>
<path class="gl" d="M589 293H598M589 301H598M590 293V301M610 306H647M610 302V309M627 302V309M636 302V309"/>
<rect class="gr" x="588" y="295" width="5" height="3"/><rect class="gr" x="611" y="302" width="7" height="5"/><rect class="gr" x="625" y="302" width="5" height="5"/><rect class="gr" x="638" y="302" width="7" height="5"/>
<text x="617" y="318" textLength="25">节点详图</text><text x="615" y="321" textLength="18">大样</text>
<text x="565" y="293" textLength="10">钢</text><text x="565" y="316" textLength="12">注</text>

<text x="569" y="331" textLength="9">十二</text><text x="580" y="331.500" textLength="10">其他</text>
<text x="581" y="337" textLength="2" class="y">1</text><text x="583" y="337" textLength="113">本工程图纸未经审查批准不得用于施工，施工图中的尺寸应以标注为准</text>
<text x="581" y="343" textLength="2" class="y">2</text><text x="583" y="343" textLength="104">施工单位应严格按图施工，图纸未注明部分按规范要求执行</text>
<text x="581" y="349" textLength="2" class="y">3</text><text x="583" y="349" textLength="87">设计变更必须经设计单位认可方可执行</text>
<text x="581" y="354" textLength="2" class="y">4</text><text x="583" y="354" textLength="124">设备基础及预埋件须待设备到货后核对尺寸无误后方可施工安装</text>
<text x="584" y="360" textLength="66">结构使用期间不得任意改变</text>
<text x="582" y="367" textLength="3" class="y">5</text><text x="585" y="367" textLength="113">建筑物在使用过程中应定期进行安全检查，发现问题及时处理确保安全</text>
<text x="585" y="372" textLength="55">使用荷载不得超过设计规定</text>
<text x="582" y="378" textLength="3" class="y">6</text><text x="585" y="378" textLength="127">除非经过技术鉴定或设计许可，不得改变结构用途或使用环境，严禁擅自拆改承重构件</text>
<text x="585" y="384" textLength="27">拆除构件</text>
<text x="582" y="390" textLength="3" class="y">7</text><text x="585" y="390" textLength="27">沉降观测</text><text x="615" y="390" textLength="92">沉降观测点布置及观测频率按规范及基础图执行</text>
<text x="585" y="395" textLength="125">观测工作应从结构施工开始进行，直至沉降稳定为止，观测资料应提交设计单位存档</text>
<text x="585" y="401" textLength="123">结构封顶后每月观测一次，竣工后第一年每季度观测一次，第二年每半年观测</text>
<text x="585" y="406" textLength="128">当沉降速率达到规定的稳定标准时方可停止观测，如有异常情况及时通知设计人员处理</text>
<text x="582" y="413" textLength="3" class="y">8</text><text x="585" y="413" textLength="125">施工中应采取有效措施保证施工安全，深基坑开挖支护应进行专项设计并论证审查</text>
<text x="585" y="418" textLength="125">模板支撑系统须经计算确定，高大模板方案应通过专家论证，施工过程严格监测执行</text>
<text x="585" y="424" textLength="15">附注</text>
<text x="582" y="430" textLength="3" class="y">9</text><text x="585" y="430" textLength="128">施工单位在施工前应组织技术人员熟悉图纸，并按设计交底要求进行，如发现图纸有问题</text>
<text x="585" y="435" textLength="128">及时向建设及设计单位反映，经协商后解决处理，不得随意修改设计，工程完工后须验收</text>
<text x="585" y="441" textLength="42">验收合格后使用</text>
<text x="582" y="447" textLength="3" class="y">0</text><text x="585" y="447" textLength="125">本说明未尽事宜应严格遵守现行国家标准规范，各部位做法按图集选用施工</text>
<text x="570" y="458" textLength="9">十三</text><text x="581" y="458" textLength="59">设计采用的标准图集及其他</text>
<text x="583" y="464" textLength="2" class="y">1</text><text x="583" y="464" textLength="88">混凝土结构施工图平面整体表示方法制图</text>
<text x="583" y="470" textLength="2" class="y">2</text><text x="584" y="470" textLength="128">建筑结构施工图标准图集及其构造详图，现浇混凝土框架、剪力墙、梁、板及楼梯等做法</text>
<text x="584" y="475" textLength="128">基础施工图标准构造详图及条形基础、筏形基础、桩基础、承台等相关做法说明及要求</text>
<text x="584" y="480" textLength="21">承台大样</text>
<text x="582" y="486" textLength="2" class="y">3</text><text x="584" y="486" textLength="88">钢结构及砌体结构构造详图等标准图集选用</text>
<text x="584" y="492" textLength="71">填充墙构造详图及其选用说明</text>
<text x="582" y="498" textLength="2" class="y">4</text><text x="584" y="498" textLength="93">现行相关施工验收规范及其规程的规定要求</text>
<text x="592" y="506" textLength="44">楼层标高及层高表</text>
<path class="l" d="M592.500 507.500H635.500V588.500H592.500ZM592.500 520.500H635.500M592.500 528.500H635.500M592.500 535.500H635.500M592.500 543.500H635.500M592.500 550.500H635.500M592.500 558.500H635.500M592.500 565.500H635.500M592.500 573.500H635.500M592.500 581.500H635.500M612.500 507.500V588.500"/>
<text x="613" y="513" textLength="22">楼层</text><text x="616" y="519" textLength="10">标高</text>
<text x="594" y="527" textLength="16">屋面层</text><text x="598" y="534" textLength="9">六层</text><text x="600" y="542" textLength="7">五</text><text x="596" y="549" textLength="11">四层</text><text x="599" y="556" textLength="8">三</text><text x="596" y="564" textLength="11">二层</text><text x="595" y="571" textLength="14">首层</text><text x="594" y="579" textLength="17">地下一</text><text x="596" y="586" textLength="12">地下</text>
<text x="620" y="527" textLength="5">3.6</text><text x="620" y="534" textLength="5">3.6</text><text x="620" y="542" textLength="5">3.6</text><text x="620" y="549" textLength="5">3.6</text><text x="620" y="556" textLength="5">3.6</text><text x="620" y="564" textLength="5">3.6</text><text x="620" y="571" textLength="5">3.6</text><text x="620" y="579" textLength="5">3.6</text><text x="620" y="586" textLength="5">3.6</text>
<text x="637" y="516" textLength="6">注</text>
<text x="644" y="515" textLength="48">注：本表仅用于结构设计</text>
<text x="644" y="520" textLength="55">层高尺寸以建筑施工图为准</text>
<text x="644" y="525" textLength="57">结构标高为建筑标高减面层</text>
<text x="644" y="530" textLength="58">具体数据详见各层平面</text>
<text x="644" y="535" textLength="59">施工时应与建筑图相互校对</text>
<text x="644" y="540" textLength="56">如有矛盾及时通知设计人员</text>
<text x="644" y="545" textLength="61">设备基础标高按专业图确定</text>
<text x="644" y="549" textLength="16">执行</text>
<text x="565" y="599" textLength="6">注</text>
</svg>
</body></html>
